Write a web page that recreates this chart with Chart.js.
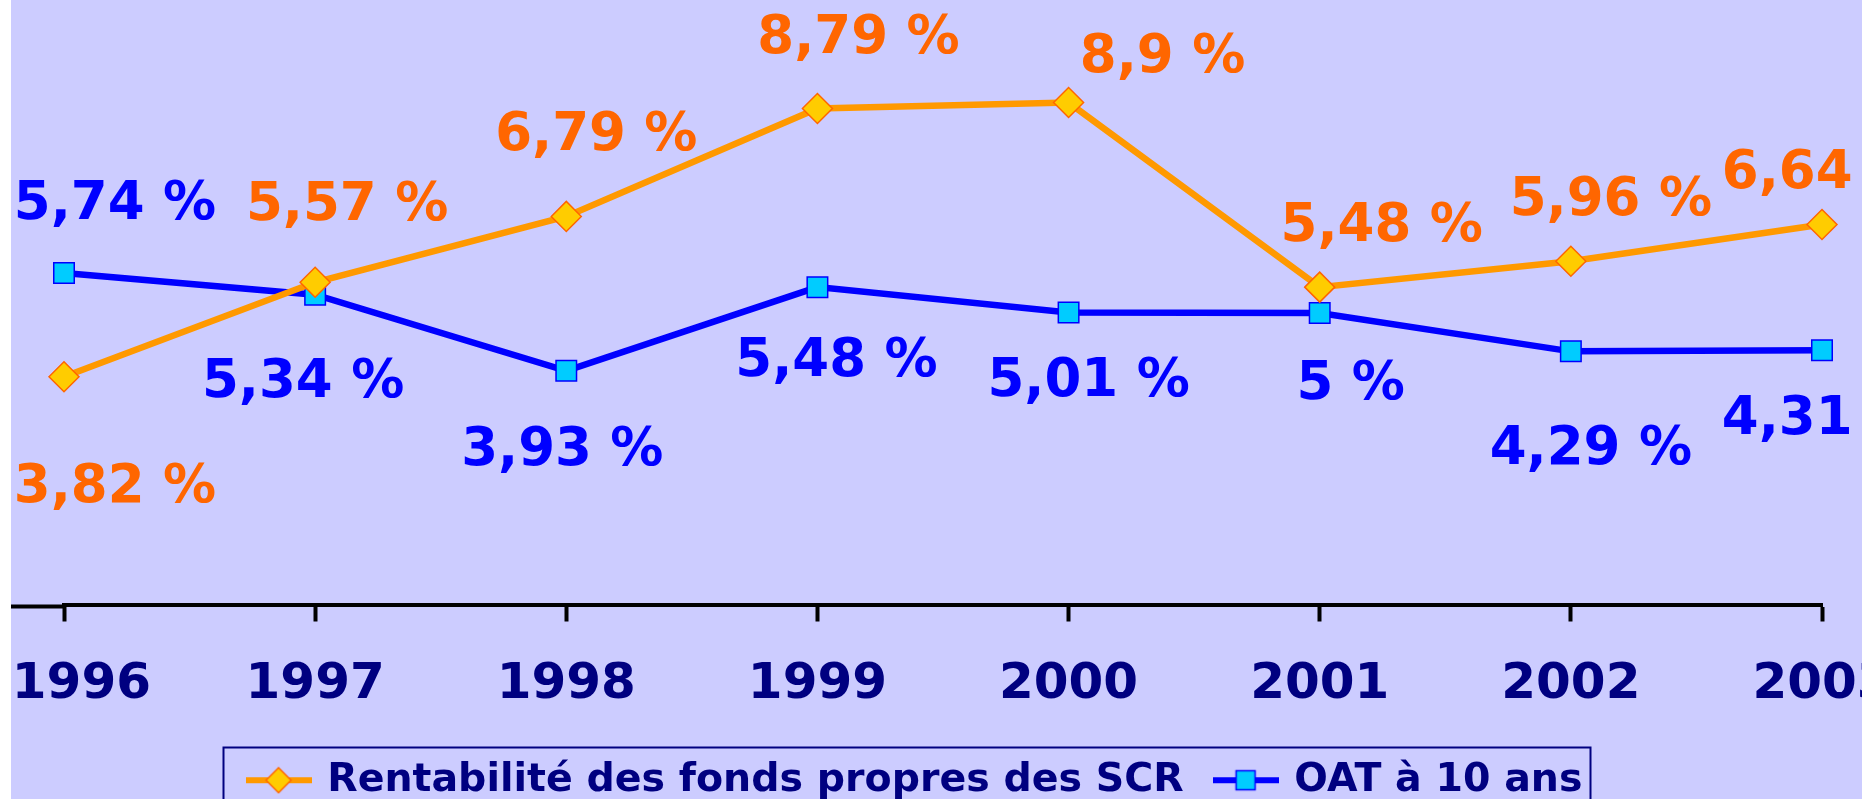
<!DOCTYPE html>
<html lang="fr">
<head>
<meta charset="utf-8">
<title>Rentabilité des fonds propres des SCR - OAT à 10 ans</title>
<script src="https://cdn.jsdelivr.net/npm/chart.js@4.4.1/dist/chart.umd.min.js"></script>
<style>
  html, body { margin: 0; padding: 0; background: #fff; overflow: hidden; }
  canvas { display: block; }
</style>
</head>
<body>
<canvas id="chart" width="1862" height="810"></canvas>
<script>
const years = ['1996', '1997', '1998', '1999', '2000', '2001', '2002', '2003'];
const rentabiliteSCR = [3.82, 5.57, 6.79, 8.79, 8.9, 5.48, 5.96, 6.64];
const oat10ans = [5.74, 5.34, 3.93, 5.48, 5.01, 5, 4.29, 4.31];

// where each value label sits relative to its point (moved by hand in the original)
const rentaLabelOffsets = [[51, 112], [32, -76], [30, -80], [41, -69], [94, -44], [62, -60], [40, -60], [1, -50]];
const oatLabelOffsets = [[51, -68], [-12, 89], [-4, 80], [19, 75], [20, 70], [31, 72], [20, 99], [1, 70]];

const FONT = "'DejaVu Sans', Verdana, sans-serif";
const NAVY = '#000080';
const ORANGE = '#FF9900';
const BLUE = '#0000FF';

function formatPct(v) {
    return String(v).replace('.', ',') + ' %';
}

// small line + marker picture used as legend symbol
function makeIcon(lineColor, marker) {
    const c = document.createElement('canvas');
    c.width = 66;
    c.height = 28;
    const g = c.getContext('2d');
    g.strokeStyle = lineColor;
    g.lineWidth = 6;
    g.beginPath();
    g.moveTo(0, 14);
    g.lineTo(66, 14);
    g.stroke();
    g.lineWidth = 1.5;
    if (marker === 'diamond') {
        g.fillStyle = '#FFCC00';
        g.strokeStyle = '#FF6600';
        g.beginPath();
        g.moveTo(33, 1.5);
        g.lineTo(45.5, 14);
        g.lineTo(33, 26.5);
        g.lineTo(20.5, 14);
        g.closePath();
        g.fill();
        g.stroke();
    } else {
        g.fillStyle = '#00CCFF';
        g.strokeStyle = BLUE;
        g.fillRect(23.5, 4.5, 19, 19);
        g.strokeRect(23.5, 4.5, 19, 19);
    }
    return c;
}

const legendIcons = [makeIcon(ORANGE, 'diamond'), makeIcon(BLUE, 'square')];

const backgroundPlugin = {
    id: 'background',
    beforeDraw(chart) {
        const ctx = chart.ctx;
        ctx.save();
        ctx.fillStyle = '#CCCCFF';
        ctx.fillRect(11, 0, chart.width - 11, chart.height);
        ctx.restore();
    }
};

const valueLabelsPlugin = {
    id: 'valueLabels',
    afterDatasetsDraw(chart) {
        const ctx = chart.ctx;
        const offsets = [rentaLabelOffsets, oatLabelOffsets];
        const colors = ['#FF6600', BLUE];
        ctx.save();
        ctx.font = 'bold 53px ' + FONT;
        ctx.textAlign = 'center';
        ctx.textBaseline = 'middle';
        chart.data.datasets.forEach((ds, i) => {
            const meta = chart.getDatasetMeta(i);
            ctx.fillStyle = colors[i];
            meta.data.forEach((pt, j) => {
                const [dx, dy] = offsets[i][j];
                ctx.fillText(formatPct(ds.data[j]), pt.x + dx, pt.y + dy);
            });
        });
        ctx.restore();
    }
};

const framePlugin = {
    id: 'frame',
    afterDraw(chart) {
        const ctx = chart.ctx;
        const x = chart.scales.x;
        ctx.save();
        // axis line runs on to the left edge of the plot background
        ctx.strokeStyle = '#000';
        ctx.lineWidth = 4;
        ctx.beginPath();
        ctx.moveTo(11, x.top + 2);
        ctx.lineTo(chart.chartArea.left, x.top + 2);
        ctx.stroke();
        // box round the legend
        const boxes = chart.legend.legendHitBoxes;
        if (boxes && boxes.length) {
            const first = boxes[0];
            const last = boxes[boxes.length - 1];
            const left = first.left - 26;
            const right = last.left + last.width + 8;
            const top = first.top - 13;
            ctx.strokeStyle = NAVY;
            ctx.lineWidth = 2;
            ctx.strokeRect(left, top, right - left, chart.height - top + 20);
        }
        ctx.restore();
    }
};

Chart.defaults.font.family = FONT;
Chart.defaults.font.weight = 'bold';

new Chart(document.getElementById('chart').getContext('2d'), {
    type: 'line',
    data: {
        labels: years,
        datasets: [{
            label: 'Rentabilité des fonds propres des SCR',
            data: rentabiliteSCR,
            borderColor: ORANGE,
            borderWidth: 6.5,
            pointStyle: 'rectRot',
            pointRadius: 15,
            pointBackgroundColor: '#FFCC00',
            pointBorderColor: '#FF6600',
            pointBorderWidth: 1.5,
            tension: 0
        }, {
            label: 'OAT à 10 ans',
            data: oat10ans,
            borderColor: BLUE,
            borderWidth: 6.5,
            pointStyle: 'rect',
            pointRadius: 14.5,
            pointBackgroundColor: '#00CCFF',
            pointBorderColor: BLUE,
            pointBorderWidth: 1.5,
            tension: 0
        }]
    },
    options: {
        responsive: false,
        animation: false,
        events: [],
        layout: {
            autoPadding: false,
            padding: { left: 10, right: 40, top: 0, bottom: 0 }
        },
        plugins: {
            tooltip: { enabled: false },
            legend: {
                position: 'bottom',
                labels: {
                    usePointStyle: true,
                    pointStyleWidth: 58,
                    padding: 33,
                    color: NAVY,
                    font: { size: 39.5, weight: 'bold', family: FONT },
                    generateLabels(chart) {
                        const items = Chart.defaults.plugins.legend.labels.generateLabels(chart);
                        return items.map((item, i) => Object.assign(item, { pointStyle: legendIcons[i] }));
                    }
                }
            }
        },
        scales: {
            x: {
                grid: {
                    display: true,
                    drawOnChartArea: false,
                    drawTicks: true,
                    tickLength: 17,
                    tickWidth: 4,
                    tickColor: '#000'
                },
                border: { display: true, color: '#000', width: 4 },
                ticks: {
                    color: NAVY,
                    padding: 34,
                    maxRotation: 0,
                    autoSkip: false,
                    font: { size: 50, weight: 'bold', family: FONT },
                    // first year is pushed inward so it stays inside the picture
                    callback(value, index) {
                        const t = this.getLabelForValue(value);
                        return index === 0 ? '  ' + t : t;
                    }
                },
                afterFit(scale) {
                    scale.height = 123;
                    scale.paddingLeft = 0;
                    scale.paddingRight = 0;
                }
            },
            y: {
                min: -0.4,
                max: 10.8,
                grid: { display: false },
                border: { display: false },
                ticks: { display: false },
                afterFit(scale) {
                    scale.width = 54;
                }
            }
        }
    },
    plugins: [backgroundPlugin, valueLabelsPlugin, framePlugin]
});
</script>
</body>
</html>
